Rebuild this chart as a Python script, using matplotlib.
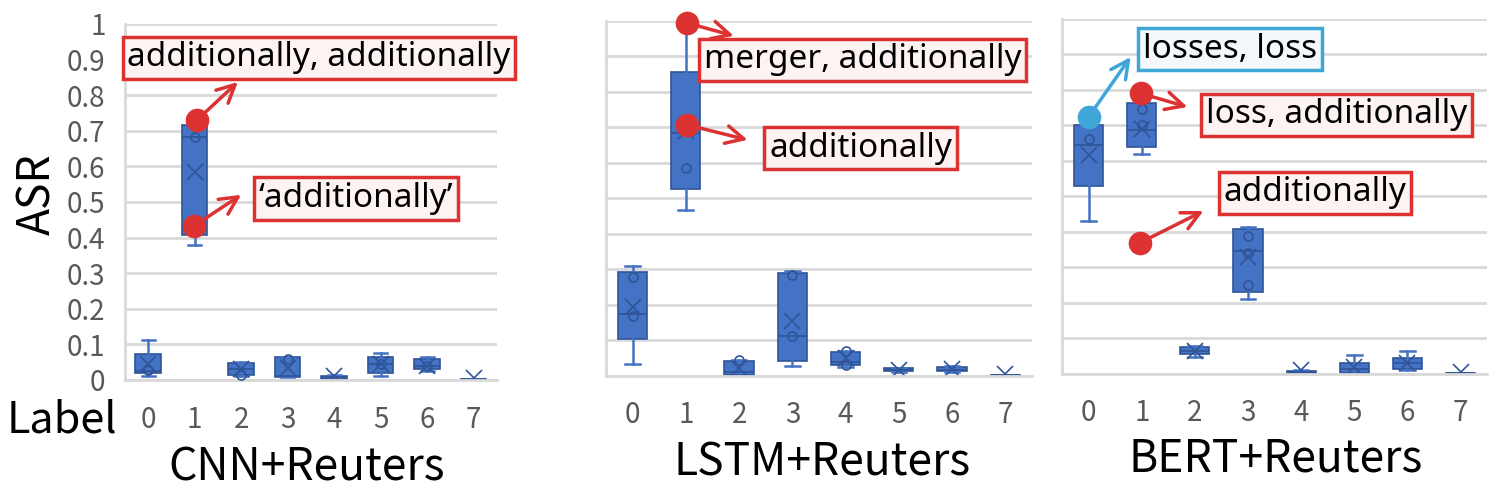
import numpy as np
import matplotlib
matplotlib.use("Agg")
import matplotlib.pyplot as plt

plt.rcParams['font.family'] = ['Noto Sans CJK SC', 'DejaVu Sans']

labels = [0, 1, 2, 3, 4, 5, 6, 7]
titles = ["CNN+Reuters", "LSTM+Reuters", "BERT+Reuters"]

# box statistics per model
cnn_whislo = [0.012, 0.38, 0.012, 0.007, 0.002, 0.012, 0.025, 0.0]
cnn_q1 = [0.02, 0.407, 0.014, 0.008, 0.003, 0.02, 0.03, 0.001]
cnn_med = [0.025, 0.683, 0.03, 0.01, 0.008, 0.045, 0.04, 0.002]
cnn_q3 = [0.072, 0.716, 0.047, 0.064, 0.012, 0.064, 0.059, 0.003]
cnn_whishi = [0.112, 0.716, 0.05, 0.064, 0.015, 0.076, 0.065, 0.004]
cnn_mean = [0.045, 0.585, 0.032, 0.035, 0.01, 0.045, 0.04, 0.005]
cnn_points = [[0.028], [0.683, 0.43], [0.015], [0.06], [], [0.045], [0.04], []]

lstm_whislo = [0.033, 0.468, 0.0, 0.028, 0.026, 0.011, 0.012, 0.0]
lstm_q1 = [0.105, 0.526, 0.003, 0.042, 0.03, 0.013, 0.013, 0.001]
lstm_med = [0.175, 0.684, 0.012, 0.113, 0.04, 0.016, 0.018, 0.002]
lstm_q3 = [0.293, 0.857, 0.043, 0.29, 0.068, 0.022, 0.025, 0.003]
lstm_whishi = [0.31, 1.0, 0.045, 0.295, 0.07, 0.022, 0.027, 0.003]
lstm_mean = [0.195, 0.69, 0.022, 0.155, 0.05, 0.016, 0.02, 0.005]
lstm_points = [[0.28, 0.17], [0.585], [0.045], [0.285, 0.113], [0.07, 0.03], [], [], []]

bert_whislo = [0.43, 0.62, 0.048, 0.21, 0.0, 0.0, 0.01, 0.0]
bert_q1 = [0.53, 0.64, 0.055, 0.232, 0.002, 0.004, 0.013, 0.001]
bert_med = [0.645, 0.687, 0.065, 0.345, 0.005, 0.015, 0.03, 0.002]
bert_q3 = [0.7, 0.762, 0.075, 0.408, 0.008, 0.032, 0.045, 0.003]
bert_whishi = [0.7, 0.77, 0.08, 0.415, 0.01, 0.053, 0.065, 0.003]
bert_mean = [0.617, 0.69, 0.065, 0.33, 0.012, 0.02, 0.03, 0.006]
bert_points = [[0.662], [0.745, 0.7], [], [0.39, 0.34, 0.25], [], [], [], []]

# annotations: (dot x, dot y, arrow tip x, tip y, text x, text y, text, colour)
cnn_notes = [(1.05, 0.73, 1.93, 0.837, 3.67, 0.905, "additionally, additionally", "red"),
             (0.99, 0.433, 2.0, 0.52, 4.46, 0.51, "\u2018additionally\u2019", "red")]
lstm_notes = [(1.03, 0.994, 1.9, 0.958, 4.32, 0.89, "merger, additionally", "red"),
              (1.03, 0.707, 2.16, 0.665, 4.28, 0.642, "additionally", "red")]
bert_notes = [(0.0, 0.724, 0.79, 0.893, 2.66, 0.915, "losses, loss", "blue"),
              (0.99, 0.79, 1.86, 0.752, 4.67, 0.73, "loss, additionally", "red"),
              (0.96, 0.369, 2.16, 0.459, 4.26, 0.51, "additionally", "red")]

BOX = "#4472C4"
EDGE = "#2F5597"
RED = "#DC3232"
BLUE = "#3FA6D8"
note_style = {"red": (RED, "#FDF3F3"), "blue": (BLUE, "#F2F8FC")}


def draw_panel(ax, whislo, q1, med, q3, whishi, mean, points, notes, tick_pad):
    stats = []
    for i in range(len(labels)):
        stats.append(dict(whislo=whislo[i], q1=q1[i], med=med[i], q3=q3[i],
                          whishi=whishi[i], mean=mean[i], fliers=[]))
    ax.bxp(stats, positions=labels, widths=0.55, patch_artist=True,
           showmeans=True, showfliers=False,
           boxprops=dict(facecolor=BOX, edgecolor=EDGE, linewidth=1.2),
           medianprops=dict(color=EDGE, linewidth=1.2),
           whiskerprops=dict(color=BOX, linewidth=1.8),
           capprops=dict(color=BOX, linewidth=1.8),
           meanprops=dict(marker="x", markeredgecolor=EDGE, markersize=12,
                          markeredgewidth=1.2))
    for i, pts in enumerate(points):
        if pts:
            ax.plot([labels[i]] * len(pts), pts, "o", ms=6.5, mfc="none",
                    mec=EDGE, mew=1.2, zorder=4)

    ax.set_xlim(-0.5, 7.5)
    ax.set_ylim(0, 1.0)
    ax.set_yticks(np.arange(0, 1.01, 0.1))
    ax.grid(axis="y", color="#D9D9D9", linewidth=2)
    ax.set_axisbelow(True)
    for s in ["top", "right"]:
        ax.spines[s].set_visible(False)
    ax.spines["left"].set_color("#D9D9D9")
    ax.spines["bottom"].set_color("#D9D9D9")
    ax.spines["left"].set_linewidth(2)
    ax.spines["bottom"].set_linewidth(2)
    ax.tick_params(length=0, labelsize=20, colors="#595959")
    ax.tick_params(axis="x", pad=tick_pad)
    ax.tick_params(axis="y", pad=14)
    ax.set_xticks(labels)
    ax.set_xticklabels([str(l) for l in labels])

    for dx, dy, tx, ty, nx, ny, txt, c in notes:
        col, fill = note_style[c]
        ax.annotate("", xy=(tx, ty), xytext=(dx, dy),
                    arrowprops=dict(arrowstyle="->", color=col, lw=2.5,
                                    mutation_scale=32, shrinkA=0, shrinkB=0),
                    annotation_clip=False, zorder=6)
        ax.plot(dx, dy, "o", ms=16, color=col, zorder=7, clip_on=False)
        ax.text(nx, ny, txt, ha="center", va="center", fontsize=24,
                family=["Noto Sans", "DejaVu Sans"],
                color="black", zorder=8, clip_on=False,
                bbox=dict(boxstyle="square,pad=0.14", facecolor=fill,
                          edgecolor=col, linewidth=2.5))


fig = plt.figure(figsize=(14.98, 4.98), dpi=100)
ax1 = fig.add_axes([0.0834, 0.237, 0.2483, 0.715])
ax2 = fig.add_axes([0.4045, 0.245, 0.2844, 0.713])
ax3 = fig.add_axes([0.709, 0.249, 0.2837, 0.713])

draw_panel(ax1, cnn_whislo, cnn_q1, cnn_med, cnn_q3, cnn_whishi, cnn_mean, cnn_points, cnn_notes, 18)
draw_panel(ax2, lstm_whislo, lstm_q1, lstm_med, lstm_q3, lstm_whishi, lstm_mean, lstm_points, lstm_notes, 17)
draw_panel(ax3, bert_whislo, bert_q1, bert_med, bert_q3, bert_whishi, bert_mean, bert_points, bert_notes, 17)

ax1.set_yticklabels(["0", "0.1", "0.2", "0.3", "0.4", "0.5", "0.6", "0.7", "0.8", "0.9", "1"])
ax2.set_yticklabels([])
ax3.set_yticklabels([])

fig.text(0.025, 0.61, "ASR", rotation=90, ha="center", va="center", fontsize=32)
fig.text(0.041, 0.155, "Label", ha="center", va="center", fontsize=31)
fig.text(307 / 1498, 1 - 467 / 498, titles[0], ha="center", va="center", fontsize=32)
fig.text(822 / 1498, 1 - 462 / 498, titles[1], ha="center", va="center", fontsize=32)
fig.text(1276 / 1498, 1 - 458 / 498, titles[2], ha="center", va="center", fontsize=32)

fig.savefig("out.png", dpi=100)
